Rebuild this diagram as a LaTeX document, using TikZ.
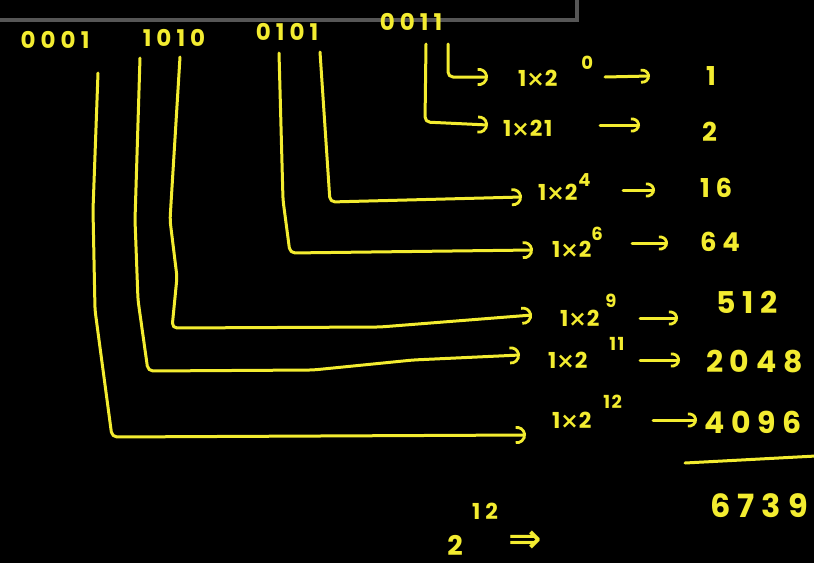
\documentclass[tikz,border=0pt]{standalone}
\usepackage{fontspec}
\setmainfont{Poppins}
\newfontfamily\hand{Poppins}[LetterSpace=22]
\newfontfamily\termf{Poppins}[LetterSpace=8]
\newfontfamily\symfont{DejaVu Sans}
\usetikzlibrary{arrows.meta,calc}
\definecolor{ink}{RGB}{243,236,48}
\definecolor{framegray}{RGB}{86,86,86}
% raised exponent that does not change the node height: #1 gap, #2 raise, #3 text
\newcommand{\hiexp}[3]{\hspace{#1}\smash{\raisebox{#2}{\fontsize{18}{19}\selectfont #3}}}
% multiplication cross
\newcommand{\tms}{{\symfont\bfseries ×}}
\begin{document}
\begin{tikzpicture}[x=1pt,y=-1pt,
  bits/.style={text=ink,inner sep=0pt,font=\hand\bfseries\fontsize{23}{25}\selectfont},
  term/.style={text=ink,inner sep=0pt,anchor=west,font=\termf\bfseries\fontsize{22}{24}\selectfont},
  val/.style={text=ink,inner sep=0pt,anchor=west,font=\hand\bfseries\fontsize{26}{28}\selectfont},
  bigval/.style={text=ink,inner sep=0pt,anchor=west,font=\hand\bfseries\fontsize{30}{32}\selectfont},
  wire/.style={draw=ink,line width=3pt,line cap=round,line join=round,rounded corners=5pt,
    -{Arc Barb[arc=200,length=9pt,width=18pt,line width=2.8pt]}},
  short/.style={draw=ink,line width=3pt,line cap=round,
    -{Arc Barb[arc=200,length=8pt,width=15pt,line width=2.8pt]}},
  rule/.style={draw=ink,line width=3pt,line cap=round}]
\useasboundingbox (0,0) rectangle (814,563);
\fill[black] (0,0) rectangle (814,563);
% window frame along the top edge
\draw[framegray,line width=3.5pt] (-10,-10) rectangle (577,20);

% the four nibbles
\node[bits] (b1) at (55,40) {0001};
\node[bits] (b2) at (174,38) {1010};
\node[bits] (b3) at (287,32) {0101};
\node[bits] (b4) at (411,22) {0011};

% place values of the set bits
\node[term] (t0)  at (518,78)  {1\tms2\hiexp{24pt}{17pt}{0}};
\node[term] (t1)  at (503,128) {1\tms21};
\node[term] (t4)  at (538,192) {1\tms2\hiexp{1pt}{14pt}{4}};
\node[term] (t6)  at (552,249) {1\tms2\hiexp{0pt}{17pt}{6}};
\node[term] (t9)  at (560,318) {1\tms2\hiexp{6pt}{19pt}{9}};
\node[term] (t11) at (548,360) {1\tms2\hiexp{22pt}{18pt}{11}};
\node[term] (t12) at (552,420) {1\tms2\hiexp{12pt}{20pt}{12}};

% their values
\node[val] (v0)  at (706,76)  {1};
\node[val] (v1)  at (702,132) {2};
\node[val] (v4)  at (700,188) {16};
\node[val] (v6)  at (700,242) {64};
\node[bigval] (v9)  at (716,302) {512};
\node[bigval] (v11) at (706,362) {2048};
\node[bigval] (v12) at (704,422) {4096};

% total
\coordinate (ra) at (685,463);
\coordinate (rb) at (816,456);
\draw[rule] (ra) -- (rb);
\node[bigval,font=\hand\bfseries\fontsize{32}{34}\selectfont] (sum) at (710,506) {6739};

% 2^12 =>
\node[text=ink,inner sep=0pt,font=\bfseries\fontsize{27}{29}\selectfont] (p2) at (455,545) {2};
\node[text=ink,inner sep=0pt,font=\hand\bfseries\fontsize{22}{24}\selectfont] (p12) at (485,511) {12};
\node[text=ink,inner sep=0pt,font=\symfont\bfseries\fontsize{40}{42}\selectfont] (imp) at (525,542) {⇒};

% bit lines
\coordinate (sA) at (98,73);   \coordinate (mA1) at (93,210);  \coordinate (mA2) at (95,310);  \coordinate (kA) at (112,437);
\coordinate (sB) at (140,58);  \coordinate (mB1) at (135,220); \coordinate (mB2) at (138,300); \coordinate (kB) at (148,371);
\coordinate (hB) at (313,370); \coordinate (hB2) at (413,360);
\coordinate (sC) at (180,57);  \coordinate (mC1) at (170,220); \coordinate (mC2) at (177,277); \coordinate (kC) at (172,328);
\coordinate (hC) at (380,327);
\coordinate (sD) at (279,53);  \coordinate (mD1) at (283,200); \coordinate (kD) at (290,253);
\coordinate (sE) at (320,52);  \coordinate (kE) at (330,202);
\coordinate (sF) at (426,44);  \coordinate (kF) at (425,122);
\coordinate (sG) at (448,44);  \coordinate (kG) at (448,77);

\draw[wire] (sA) -- (mA1) -- (mA2) -- (kA) -- ($(t12.west)+(-26,15)$);
\draw[wire] (sB) -- (mB1) -- (mB2) -- (kB) -- (hB) -- (hB2) -- ($(t11.west)+(-28,-5)$);
\draw[wire] (sC) -- (mC1) -- (mC2) -- (kC) -- (hC) -- ($(t9.west)+(-28,-3)$);
\draw[wire] (sD) -- (mD1) -- (kD) -- ($(t6.west)+(-19,1)$);
\draw[wire] (sE) -- (kE) -- ($(t4.west)+(-16,5)$);
\draw[wire] (sF) -- (kF) -- ($(t1.west)+(-15,-3)$);
\draw[wire] (sG) -- (kG) -- ($(t0.west)+(-30,-1)$);

% arrows from each power to its value
\draw[short] ($(t0.west)+(87,-1)$)   -- ($(v0.west)+(-56,0)$);
\draw[short] ($(t1.west)+(97,-3)$)   -- ($(v1.west)+(-62,-7)$);
\draw[short] ($(t4.west)+(85,-2)$)   -- ($(v4.west)+(-45,2)$);
\draw[short] ($(t6.west)+(80,-6)$)   -- ($(v6.west)+(-32,1)$);
\draw[short] ($(t9.west)+(80,0)$)    -- ($(v9.west)+(-38,16)$);
\draw[short] ($(t11.west)+(92,0)$)   -- ($(v11.west)+(-26,-2)$);
\draw[short] ($(t12.west)+(101,0)$)  -- ($(v12.west)+(-7,-2)$);
\end{tikzpicture}
\end{document}
